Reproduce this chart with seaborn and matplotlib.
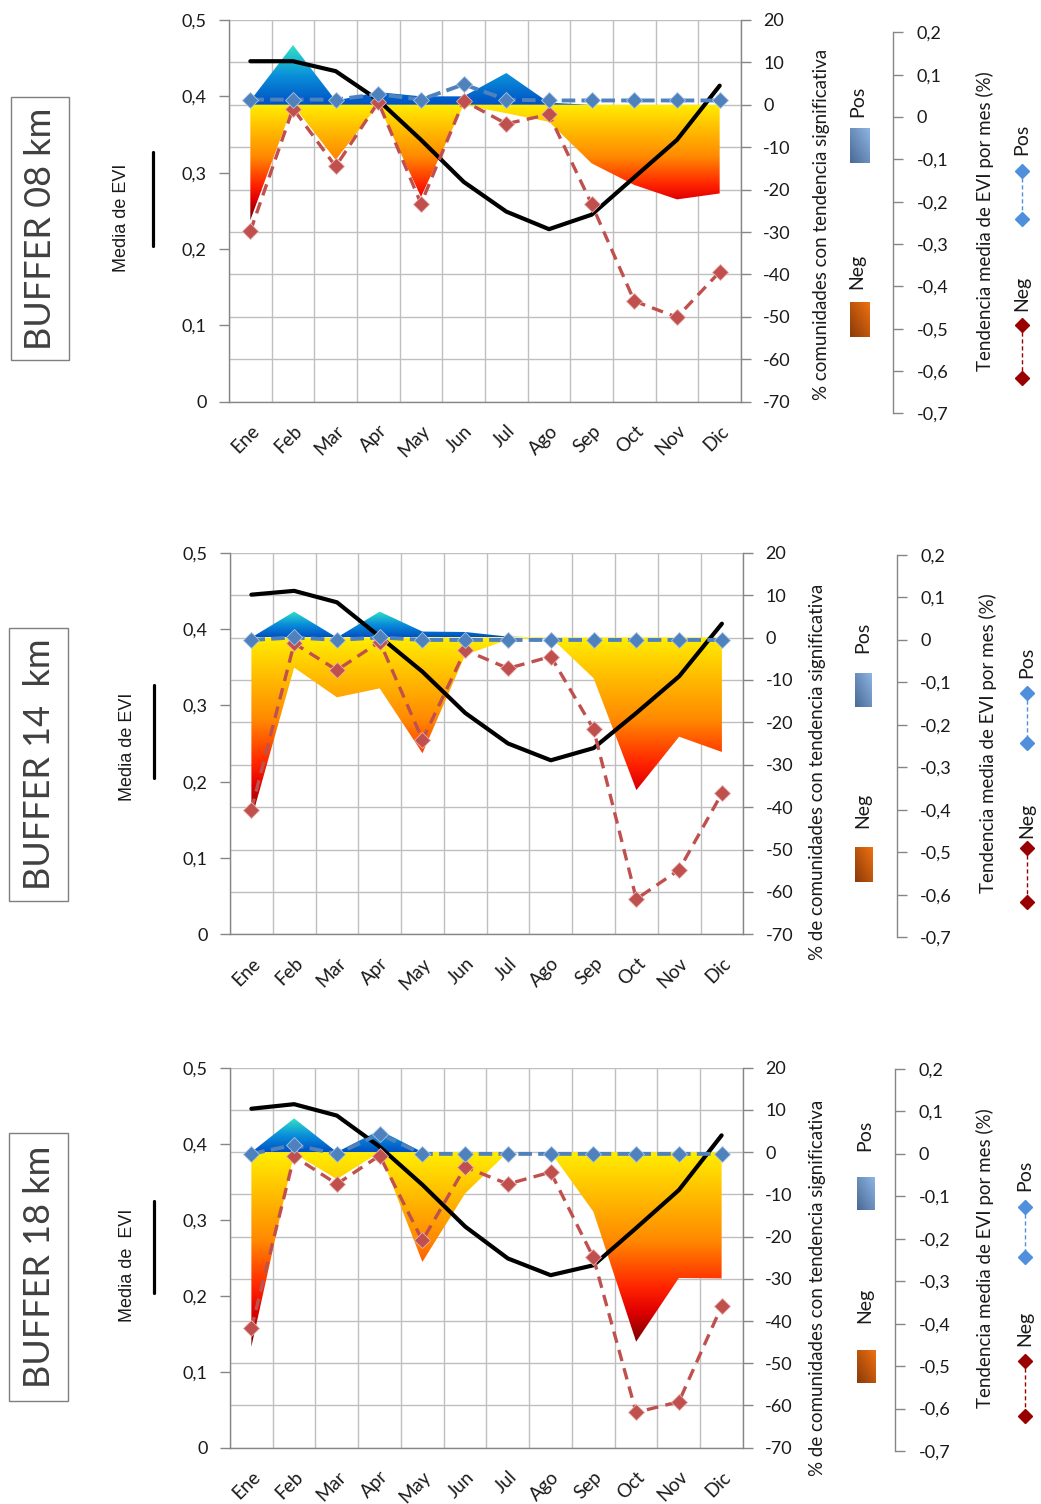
import numpy as np
import matplotlib
matplotlib.use("Agg")
import matplotlib.pyplot as plt
import seaborn as sns
from matplotlib.colors import LinearSegmentedColormap
from matplotlib.patches import Rectangle
from matplotlib.lines import Line2D
from matplotlib.transforms import ScaledTranslation

sns.set_theme(style="white")
plt.rcParams["font.family"] = ["Lato", "DejaVu Sans"]

# ---------------------------------------------------------------- data
months = ["Ene", "Feb", "Mar", "Apr", "May", "Jun", "Jul", "Ago", "Sep", "Oct", "Nov", "Dic"]

# Media de EVI (left axis)
evi_08 = [0.446, 0.446, 0.433, 0.395, 0.343, 0.288, 0.249, 0.226, 0.245, 0.294, 0.343, 0.414]
evi_14 = [0.445, 0.450, 0.435, 0.390, 0.344, 0.290, 0.250, 0.228, 0.244, 0.290, 0.338, 0.407]
evi_18 = [0.446, 0.452, 0.437, 0.396, 0.346, 0.291, 0.249, 0.227, 0.240, 0.289, 0.339, 0.411]

# % comunidades con tendencia significativa (right axis)
pos_08 = [1.0, 14.1, 1.0, 3.0, 2.0, 2.0, 7.5, 0.5, 0.0, 0.0, 0.0, 0.0]
neg_08 = [-27.2, 0.0, -13.0, 0.0, -21.7, 0.0, -2.0, -4.0, -13.8, -18.9, -22.3, -20.9]
pos_14 = [0.0, 6.1, 0.0, 6.1, 1.4, 1.3, 0.2, 0.0, 0.0, 0.0, 0.0, 0.0]
neg_14 = [-42.9, -7.1, -14.1, -12.0, -27.3, -4.1, -0.5, 0.0, -9.6, -36.0, -23.4, -27.0]
pos_18 = [0.0, 8.0, 0.0, 5.2, 0.0, 0.0, 0.0, 0.0, 0.0, 0.0, 0.0, 0.0]
neg_18 = [-46.1, -0.3, -6.4, 0.0, -26.0, -9.8, 0.0, 0.0, -14.1, -44.9, -29.8, -29.9]

# Tendencia media de EVI por mes (third axis)
tpos_08 = [0.041, 0.041, 0.041, 0.054, 0.041, 0.077, 0.041, 0.039, 0.039, 0.039, 0.039, 0.039]
tneg_08 = [-0.270, 0.020, -0.117, 0.035, -0.205, 0.038, -0.016, 0.006, -0.206, -0.435, -0.473, -0.366]
tpos_14 = [0.0, 0.006, 0.0, 0.006, 0.0, 0.0, 0.0, 0.0, 0.0, 0.0, 0.0, 0.0]
tneg_14 = [-0.400, -0.008, -0.071, -0.004, -0.235, -0.024, -0.067, -0.039, -0.210, -0.610, -0.541, -0.361]
tpos_18 = [0.0, 0.021, 0.0, 0.047, 0.0, 0.0, 0.0, 0.0, 0.0, 0.0, 0.0, 0.0]
tneg_18 = [-0.411, -0.006, -0.071, -0.004, -0.204, -0.031, -0.071, -0.043, -0.244, -0.609, -0.584, -0.359]

titles = ["BUFFER 08 km", "BUFFER 14  km", "BUFFER 18 km"]
media_labels = ["Media de EVI", "Media de EVI", "Media de  EVI"]
pct_labels = ["% comunidades con tendencia significativa",
              "% de comunidades con tendencia significativa",
              "% de comunidades con tendencia significativa"]
trend_label = "Tendencia media de EVI por mes (%)"

evi_ticks = [0, 0.1, 0.2, 0.3, 0.4, 0.5]
evi_ticklabels = ["0", "0,1", "0,2", "0,3", "0,4", "0,5"]
pct_ticks = list(range(-70, 21, 10))
trend_ticks = [-0.7, -0.6, -0.5, -0.4, -0.3, -0.2, -0.1, 0.0, 0.1, 0.2]
trend_ticklabels = ["-0,7", "-0,6", "-0,5", "-0,4", "-0,3", "-0,2", "-0,1", "0", "0,1", "0,2"]

# ---------------------------------------------------------------- layout (pixels)
W, H = 1041, 1504
LAYOUT = [
    dict(box=(10.7, 97, 69.3, 360), media=(121, 218), mline=(153, 152, 246),
         ax=(229, 20, 741, 401.7), third=(32.3, 413.3), third_x=893,
         pct=(821, 224), tend=(985, 221),
         pos_txt=(858, 101), pos_rect=(850, 128, 869, 163),
         neg_txt=(857, 271), neg_rect=(850, 302, 869, 337),
         lpos_txt=(1022, 139), lpos_d=(171, 219), lneg_txt=(1022, 293), lneg_d=(325, 378)),
    dict(box=(9.3, 628, 68.3, 901), media=(127, 747), mline=(154, 685, 778),
         ax=(230, 552.7, 743.3, 934.3), third=(555, 937.3), third_x=896.7,
         pct=(817, 772), tend=(988, 743),
         pos_txt=(863, 637), pos_rect=(855, 673, 872, 707),
         neg_txt=(863, 810), neg_rect=(855, 847, 873, 882),
         lpos_txt=(1027, 662), lpos_d=(693, 743), lneg_txt=(1027, 820), lneg_d=(848, 902)),
    dict(box=(9.3, 1133, 68.3, 1401), media=(127, 1265), mline=(154, 1201, 1293),
         ax=(230, 1067.7, 743, 1447.7), third=(1069, 1451), third_x=895,
         pct=(817, 1288), tend=(985, 1258),
         pos_txt=(865, 1135), pos_rect=(857, 1177, 875, 1210),
         neg_txt=(865, 1305), neg_rect=(857, 1350, 876, 1383),
         lpos_txt=(1025, 1175), lpos_d=(1207, 1257), lneg_txt=(1025, 1328), lneg_d=(1361, 1416)),
]

GRID = "#BFBFBF"
SPINE = "#868686"
TXT = "#1a1a1a"
BLUE_LINE = "#4F81BD"
RED_LINE = "#C0504D"
NEG_CMAP = LinearSegmentedColormap.from_list(
    "neg", [(0.0, "#6B0000"), (0.18, "#E00000"), (0.3, "#FF2200"),
            (0.55, "#FF8A00"), (0.8, "#FFC000"), (1.0, "#FFEE00")])
POS_CMAP = LinearSegmentedColormap.from_list(
    "pos", [(0.0, "#0050C4"), (0.5, "#0A90DA"), (1.0, "#32E2C6")])

TICK_FS = 13
MONTH_FS = 13.5

fig = plt.figure(figsize=(W / 100, H / 100), dpi=100)


def fx(px):
    return px / W


def fy(py):
    return 1 - py / H


def axes_px(x0, y0, x1, y1):
    return fig.add_axes([fx(x0), fy(y1), (x1 - x0) / W, (y1 - y0) / H])


def gradient_area(axis, x, y, cmap):
    """Fill between 0 and y with a vertical gradient spanning the area's extent."""
    poly = axis.fill_between(x, 0, y, facecolor="none", edgecolor="none", zorder=1)
    lo, hi = min(0, min(y)), max(0, max(y))
    if hi - lo <= 0:
        return
    grad = np.linspace(0, 1, 256).reshape(-1, 1)
    im = axis.imshow(grad, extent=(x[0], x[-1], lo, hi), origin="lower", cmap=cmap,
                     aspect="auto", interpolation="bilinear", zorder=1)
    im.set_clip_path(poly.get_paths()[0], transform=axis.transData)


def swatch(x0, y0, x1, y1, c_light, c_dark):
    sa = axes_px(x0, y0, x1, y1)
    yy, xx = np.mgrid[0:1:40j, 0:1:20j]
    t = (yy + xx) / 2
    cmap = LinearSegmentedColormap.from_list("sw", [c_dark, c_light])
    sa.imshow(t, origin="lower", cmap=cmap, aspect="auto", extent=(0, 1, 0, 1))
    sa.set_axis_off()


def legend_line(xc, ya, yb, color, lw, ms):
    fig.add_artist(Line2D([fx(xc), fx(xc)], [fy(ya), fy(yb)], transform=fig.transFigure,
                          color=color, lw=lw, linestyle=(0, (3, 2)), marker="D",
                          markersize=ms, markerfacecolor=color, markeredgecolor=color))


def draw_panel(k, evi, pos, neg, tpos, tneg):
    L = LAYOUT[k]
    x = np.arange(len(months))
    x0, y0, x1, y1 = L["ax"]

    ax = axes_px(x0, y0, x1, y1)
    ax2 = ax.twinx()
    ax.set_zorder(ax2.get_zorder() + 1)
    ax.patch.set_visible(False)

    # gridlines and areas on the % axis
    ax2.set_axisbelow(True)
    ax2.yaxis.grid(True, color=GRID, lw=1.0)
    for b in np.arange(-0.5, len(months), 1.0):
        ax2.axvline(b, color=GRID, lw=1.0, zorder=0.5)
    gradient_area(ax2, x, pos, POS_CMAP)
    gradient_area(ax2, x, neg, NEG_CMAP)
    ax2.set_xlim(-0.5, len(months) - 0.5)
    ax2.set_ylim(-70, 20)
    ax2.set_yticks(pct_ticks)
    ax2.set_yticklabels([str(v) for v in pct_ticks])

    # mean EVI
    sns.lineplot(x=x, y=evi, ax=ax, color="black", lw=3.0, solid_capstyle="round",
                 legend=False)
    ax.set_xlim(-0.5, len(months) - 0.5)
    ax.set_ylim(0, 0.5)
    ax.set_yticks(evi_ticks)
    ax.set_yticklabels(evi_ticklabels)
    ax.set_xticks(x)
    ax.set_xticklabels(months)
    ax.set_xticks(np.arange(-0.5, len(months), 1.0), minor=True)
    ax.set_xlabel("")
    ax.set_ylabel("")
    ax.grid(False)
    ax.tick_params(axis="x", which="major", length=0, pad=19, labelsize=MONTH_FS, labelcolor=TXT)
    ax.tick_params(axis="x", which="minor", length=6, width=1.0, color=SPINE, direction="out")
    ax.tick_params(axis="y", length=7, width=1.0, color=SPINE, direction="out",
                   labelsize=TICK_FS, labelcolor=TXT, pad=9)
    ax2.tick_params(axis="y", length=7, width=1.0, color=SPINE, direction="out",
                    labelsize=TICK_FS, labelcolor=TXT, pad=9)
    for lab in ax.get_xticklabels():
        lab.set_rotation(45)
        lab.set_ha("right")
        lab.set_va("center")
        lab.set_rotation_mode("anchor")
        lab.set_transform(lab.get_transform() + ScaledTranslation(0.06, 0.0, fig.dpi_scale_trans))
    for s in ["top", "right"]:
        ax.spines[s].set_visible(False)
    for s in ["left", "bottom"]:
        ax.spines[s].set_color(SPINE)
        ax.spines[s].set_linewidth(1.0)
    for s in ["top", "left", "bottom"]:
        ax2.spines[s].set_visible(False)
    ax2.spines["right"].set_color(SPINE)
    ax2.spines["right"].set_linewidth(1.0)

    # trend lines on the third axis
    t0, t1 = L["third"]
    ax3 = axes_px(x0, t0, x1, t1)
    ax3.set_zorder(ax.get_zorder() + 1)
    ax3.patch.set_visible(False)
    sns.lineplot(x=x, y=tneg, ax=ax3, color=RED_LINE, lw=2.4, linestyle=(0, (3.5, 2.2)),
                 marker="D", markersize=8.5, markerfacecolor=RED_LINE,
                 markeredgecolor="#E8B0AE", markeredgewidth=0.6, legend=False)
    sns.lineplot(x=x, y=tpos, ax=ax3, color=BLUE_LINE, lw=2.8, linestyle=(0, (3.5, 1.6)),
                 marker="D", markersize=8.5, markerfacecolor=BLUE_LINE,
                 markeredgecolor="#A9C4E6", markeredgewidth=0.6, legend=False)
    ax3.set_xlim(-0.5, len(months) - 0.5)
    ax3.set_ylim(-0.7, 0.2)
    ax3.set_xlabel("")
    ax3.set_ylabel("")
    ax3.set_xticks([])
    ax3.grid(False)
    ax3.yaxis.tick_right()
    ax3.set_yticks(trend_ticks)
    ax3.set_yticklabels(trend_ticklabels)
    ax3.tick_params(axis="y", length=7, width=1.0, color=SPINE, direction="out",
                    labelsize=TICK_FS, labelcolor=TXT, pad=10)
    for s in ["top", "left", "bottom"]:
        ax3.spines[s].set_visible(False)
    ax3.spines["right"].set_position(("axes", (L["third_x"] - x0) / (x1 - x0)))
    ax3.spines["right"].set_color(SPINE)
    ax3.spines["right"].set_linewidth(1.0)

    # left-hand block: buffer title and EVI legend
    bx0, by0, bx1, by1 = L["box"]
    fig.add_artist(Rectangle((fx(bx0), fy(by1)), (bx1 - bx0) / W, (by1 - by0) / H,
                             transform=fig.transFigure, fill=False, ec="#7F7F7F", lw=1.0))
    fig.text(fx((bx0 + bx1) / 2 + 1), fy((by0 + by1) / 2), titles[k], rotation=90,
             ha="center", va="center", fontsize=26, color="#404040")
    fig.text(fx(L["media"][0]), fy(L["media"][1]), media_labels[k], rotation=90,
             ha="center", va="center", fontsize=13, color=TXT, family=["Liberation Sans"])
    mx, ma, mb = L["mline"]
    fig.add_artist(Line2D([fx(mx), fx(mx)], [fy(ma), fy(mb)], transform=fig.transFigure,
                          color="black", lw=2.3))

    # right-hand block: axis titles and legends
    fig.text(fx(L["pct"][0]), fy(L["pct"][1]), pct_labels[k], rotation=90,
             ha="center", va="center", fontsize=13.5, color=TXT)
    fig.text(fx(L["tend"][0]), fy(L["tend"][1]), trend_label, rotation=90,
             ha="center", va="center", fontsize=13.5, color=TXT)
    fig.text(fx(L["pos_txt"][0]), fy(L["pos_txt"][1]), "Pos", rotation=90,
             ha="center", va="center", fontsize=14, color=TXT)
    fig.text(fx(L["neg_txt"][0]), fy(L["neg_txt"][1]), "Neg", rotation=90,
             ha="center", va="center", fontsize=14, color=TXT)
    swatch(*L["pos_rect"], "#8DB4E2", "#4A6A96")
    swatch(*L["neg_rect"], "#EE7010", "#8B3A0A")
    fig.text(fx(L["lpos_txt"][0]), fy(L["lpos_txt"][1]), "Pos", rotation=90,
             ha="center", va="center", fontsize=14, color=TXT)
    fig.text(fx(L["lneg_txt"][0]), fy(L["lneg_txt"][1]), "Neg", rotation=90,
             ha="center", va="center", fontsize=14, color=TXT)
    legend_line(L["lpos_txt"][0], L["lpos_d"][0], L["lpos_d"][1], "#4F8FDB", 1.0, 7)
    legend_line(L["lneg_txt"][0], L["lneg_d"][0], L["lneg_d"][1], "#990000", 1.0, 7)


draw_panel(0, evi_08, pos_08, neg_08, tpos_08, tneg_08)
draw_panel(1, evi_14, pos_14, neg_14, tpos_14, tneg_14)
draw_panel(2, evi_18, pos_18, neg_18, tpos_18, tneg_18)

fig.savefig("out.png", dpi=100, facecolor="white")
